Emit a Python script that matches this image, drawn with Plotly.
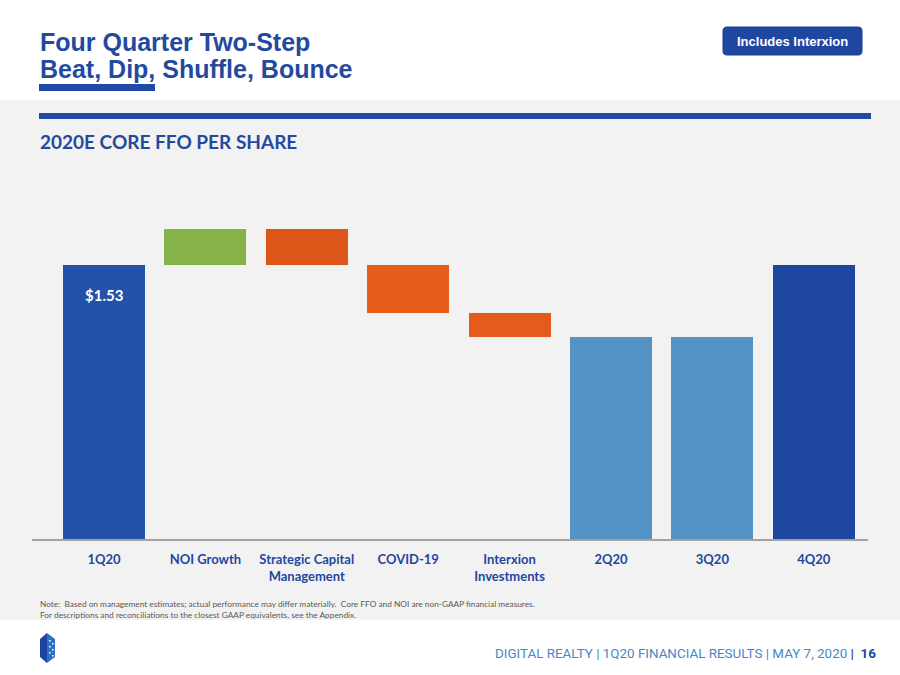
import plotly.graph_objects as go

# ---- data ----
tick_labels = ["1Q20", "NOI Growth", "Strategic Capital<br>Management", "COVID-19",
               "Interxion<br>Investments", "2Q20", "3Q20", "4Q20"]
start_ffo = 1.53
step_names = ["NOI Growth", "Strategic Capital", "COVID-19", "Interxion Investments"]
step_deltas = [0.20, -0.20, -0.27, -0.13]
quarter_names = ["2Q20", "3Q20", "4Q20"]
quarter_values = [1.13, 1.13, 1.53]
start_label = "$1.53"

# ---- build waterfall geometry from data ----
bases, heights = [0], [start_ffo]
run = start_ffo
for d in step_deltas:
    new = run + d
    bases.append(min(run, new))
    heights.append(abs(d))
    run = new
for v in quarter_values:
    bases.append(0)
    heights.append(v)

colors = ["#2252a9", "#86b24a", "#db5618", "#e65d1b", "#e45b1d",
          "#5593c5", "#5593c5", "#1f47a1"]

W, H = 900, 675
def fx(x): return x / W
def fy(y): return 1 - y / H

fig = go.Figure()
fig.add_trace(go.Bar(
    x=list(range(len(heights))), y=heights, base=bases, width=0.81,
    marker=dict(color=colors, line=dict(width=0)),
    hoverinfo="skip", showlegend=False,
))

def rrect(x0, y0, x1, y1, r):
    p = lambda x, y: f"{fx(x):.5f},{fy(y):.5f}"
    return (f"M {p(x0+r,y0)} L {p(x1-r,y0)} Q {p(x1,y0)} {p(x1,y0+r)} "
            f"L {p(x1,y1-r)} Q {p(x1,y1)} {p(x1-r,y1)} L {p(x0+r,y1)} "
            f"Q {p(x0,y1)} {p(x0,y1-r)} L {p(x0,y0+r)} Q {p(x0,y0)} {p(x0+r,y0)} Z")

def poly(pts):
    return "M " + " L ".join(f"{fx(x):.5f},{fy(y):.5f}" for x, y in pts) + " Z"

shapes = [
    # gray content band
    dict(type="rect", xref="paper", yref="paper", x0=0, x1=1, y0=fy(620), y1=fy(100),
         fillcolor="#f2f2f2", line=dict(width=0), layer="below"),
    # title underline
    dict(type="rect", xref="paper", yref="paper", x0=fx(39), x1=fx(155), y0=fy(91), y1=fy(84),
         fillcolor="#2249a6", line=dict(width=0), layer="below"),
    # section rule
    dict(type="rect", xref="paper", yref="paper", x0=fx(39), x1=fx(871), y0=fy(119), y1=fy(113),
         fillcolor="#2249a6", line=dict(width=0), layer="below"),
    # badge
    dict(type="path", xref="paper", yref="paper", path=rrect(723, 27, 862, 55, 4),
         fillcolor="#1f47a1", line=dict(color="#1a3f93", width=1), layer="below"),
    # logo
    dict(type="path", xref="paper", yref="paper",
         path=poly([(40, 639), (47, 633), (47, 663), (40, 657)]),
         fillcolor="#1d44a0", line=dict(width=0)),
    dict(type="path", xref="paper", yref="paper",
         path=poly([(47, 633), (55, 639), (55, 657), (47, 663)]),
         fillcolor="#2f72c4", line=dict(width=0)),
]
for (x, y) in [(49, 640), (52, 643), (49, 646), (52, 649), (49, 652), (52, 655)]:
    shapes.append(dict(type="rect", xref="paper", yref="paper", x0=fx(x), x1=fx(x + 1.6),
                       y0=fy(y + 1.6), y1=fy(y), fillcolor="white", line=dict(width=0)))

annotations = [
    dict(text="<b>Four Quarter Two-Step</b>", x=fx(38), y=fy(42), xref="paper", yref="paper",
         xanchor="left", yanchor="middle", showarrow=False,
         font=dict(family="Arial, Liberation Sans", size=25, color="#234a9e")),
    dict(text="<b>Beat, Dip, Shuffle, Bounce</b>", x=fx(38), y=fy(69), xref="paper", yref="paper",
         xanchor="left", yanchor="middle", showarrow=False,
         font=dict(family="Arial, Liberation Sans", size=25, color="#234a9e")),
    dict(text="<b>Includes Interxion</b>", x=fx(792.5), y=fy(41.5), xref="paper", yref="paper",
         xanchor="center", yanchor="middle", showarrow=False,
         font=dict(family="Arial, Liberation Sans", size=13, color="white")),
    dict(text="<b>2020E CORE FFO PER SHARE</b>", x=fx(38), y=fy(141), xref="paper", yref="paper",
         xanchor="left", yanchor="middle", showarrow=False,
         font=dict(family="Lato", size=19, color="#234a9e")),
    dict(text=f"<b>{start_label}</b>", x=0, y=start_ffo, xref="x", yref="y",
         xanchor="center", yanchor="top", yshift=-19, showarrow=False,
         font=dict(family="Lato", size=15, color="white")),
    dict(text="Note:  Based on management estimates; actual performance may differ materially.  "
              "Core FFO and NOI are non-GAAP financial measures.<br>"
              "For descriptions and reconciliations to the closest GAAP equivalents, see the Appendix.",
         x=fx(38), y=fy(609), xref="paper", yref="paper", xanchor="left", yanchor="middle",
         align="left", showarrow=False,
         font=dict(family="Lato", size=8.3, color="#595959")),
    dict(text="<span style='color:#4a86c5'>DIGITAL REALTY | 1Q20 FINANCIAL RESULTS | MAY 7, 2020 </span>"
              "<b><span style='color:#1f47a1'>|  16</span></b>",
         x=fx(878), y=fy(653), xref="paper", yref="paper", xanchor="right", yanchor="middle",
         showarrow=False,
         font=dict(family="Liberation Sans Narrow, Arial Narrow, Roboto", size=13.4, color="#4a86c5")),
]

fig.update_layout(
    width=W, height=H, margin=dict(l=0, r=0, t=0, b=0),
    paper_bgcolor="white", plot_bgcolor="rgba(0,0,0,0)",
    shapes=shapes, annotations=annotations, bargap=0,
    xaxis=dict(domain=[fx(32), fx(868)], range=[-0.71, 7.535],
               tickmode="array", tickvals=list(range(len(tick_labels))), ticktext=tick_labels,
               showline=True, linecolor="#a3a3a3", linewidth=2, showgrid=False, zeroline=False,
               ticks="", ticklabelstandoff=7,
               tickfont=dict(family="Lato", size=13, color="#1f47a1", weight="bold"),
               fixedrange=True),
    yaxis=dict(domain=[fy(539), fy(160)], range=[0, 2.116], visible=False, fixedrange=True),
)

fig.write_html("out.html", post_script="document.body.style.margin='0';",
               config={"displayModeBar": False})
